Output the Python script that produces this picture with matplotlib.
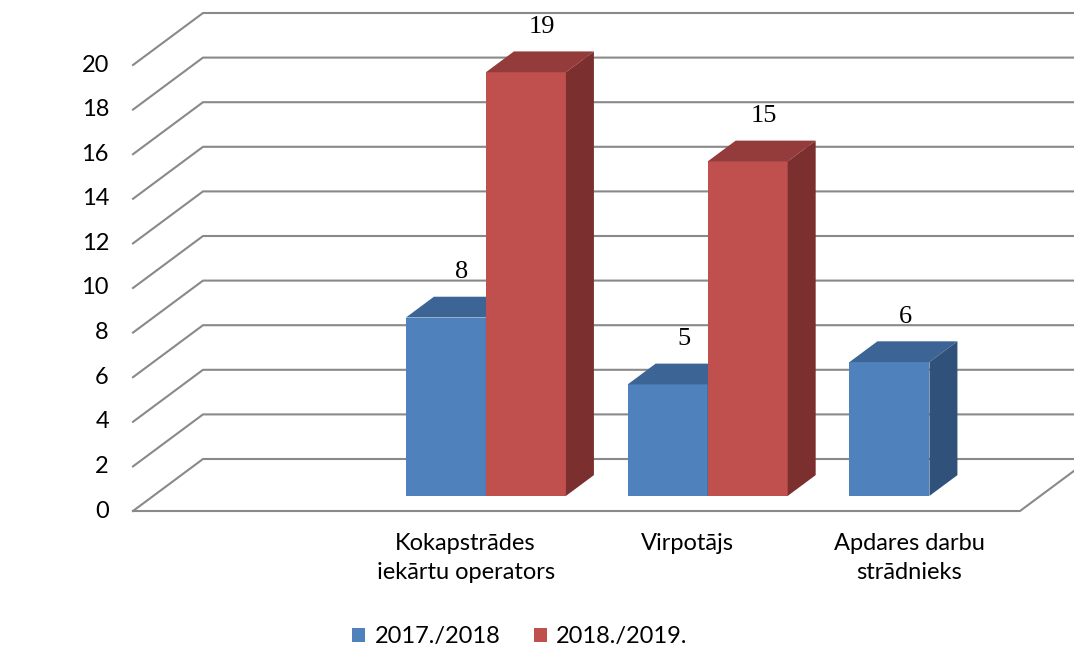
import numpy as np
import matplotlib.pyplot as plt
from matplotlib.patches import Polygon, Patch

# data
categories = ["", "Kokapstrādes\niekārtu operators", "Virpotājs", "Apdares darbu\nstrādnieks"]
series_names = ["2017./2018", "2018./2019."]
vals_2017 = [None, 8, 5, 6]
vals_2018 = [None, 19, 15, None]
yticks = [0, 2, 4, 6, 8, 10, 12, 14, 16, 18, 20]

# colours: front, top, side
blue = ['#4F81BD', '#3C6595', '#30527A']
red = ['#C0504D', '#943C3B', '#7B2F2E']
grid_clr = '#898989'

# pseudo-3D layout (pixel space)
X0, Y0 = 133, 511        # front-left floor corner
cat_w = 221.75           # width of a category at the front
unit = 22.3              # px per value unit
DX, DY = 70, 52          # depth vector
d_front, d_back = 0.29, 0.69
bar_w = 80
fs = 17

def proj(x, d, v):
    return (x + DX * d, Y0 - unit * v - DY * d)

fig = plt.figure(figsize=(10.74, 6.49), dpi=100)
ax = fig.add_axes([0, 0, 1, 1])
ax.set_xlim(0, 1074)
ax.set_ylim(649, 0)
ax.axis('off')

x_end = X0 + cat_w * len(categories)

# grid / walls
for v in yticks:
    pts = [proj(X0, 0, v), proj(X0, 1, v), proj(x_end, 1, v)]
    ax.plot([p[0] for p in pts], [p[1] for p in pts], color=grid_clr, lw=1.5, zorder=1)
    ax.text(X0 - 24, Y0 - unit * v, str(v), ha='right', va='center',
            fontsize=fs, family='Lato')
floor = [proj(X0, 0, 0), proj(x_end, 0, 0), proj(x_end, 1, 0)]
ax.plot([p[0] for p in floor], [p[1] for p in floor], color=grid_clr, lw=1.5, zorder=1)

def bar3d(x, v, clr, z):
    f = [proj(x, d_front, 0), proj(x + bar_w, d_front, 0),
         proj(x + bar_w, d_front, v), proj(x, d_front, v)]
    t = [proj(x, d_front, v), proj(x + bar_w, d_front, v),
         proj(x + bar_w, d_back, v), proj(x, d_back, v)]
    s = [proj(x + bar_w, d_front, 0), proj(x + bar_w, d_back, 0),
         proj(x + bar_w, d_back, v), proj(x + bar_w, d_front, v)]
    ax.add_patch(Polygon(f, closed=True, fc=clr[0], ec='none', zorder=z))
    ax.add_patch(Polygon(t, closed=True, fc=clr[1], ec='none', zorder=z))
    ax.add_patch(Polygon(s, closed=True, fc=clr[2], ec='none', zorder=z))
    lx, ly = proj(x + bar_w / 2, (d_front + d_back) / 2, v)
    ax.text(lx + 2, ly - 35, str(v), ha='center', va='center', fontsize=19,
            family='Liberation Serif', zorder=10)

z = 2
for i, cat in enumerate(categories):
    cx = X0 + cat_w * (i + 0.5)
    for j, (vals, clr) in enumerate([(vals_2017, blue), (vals_2018, red)]):
        v = vals[i]
        if v is not None:
            bar3d(cx - bar_w + j * bar_w, v, clr, z)
            z += 1
    ax.text(cx, Y0 + 22, cat, ha='center', va='top', fontsize=fs,
            family='Lato', linespacing=1.45)

handles = [Patch(fc=blue[0]), Patch(fc=red[0])]
ax.legend(handles, series_names, loc='center', bbox_to_anchor=(520 / 1074, 1 - 637 / 649),
          ncol=2, frameon=False, prop={'family': 'Lato', 'size': fs},
          handlelength=0.55, handleheight=0.55, handletextpad=0.4, columnspacing=1.4)

plt.savefig('out.png', dpi=100)
plt.close()
